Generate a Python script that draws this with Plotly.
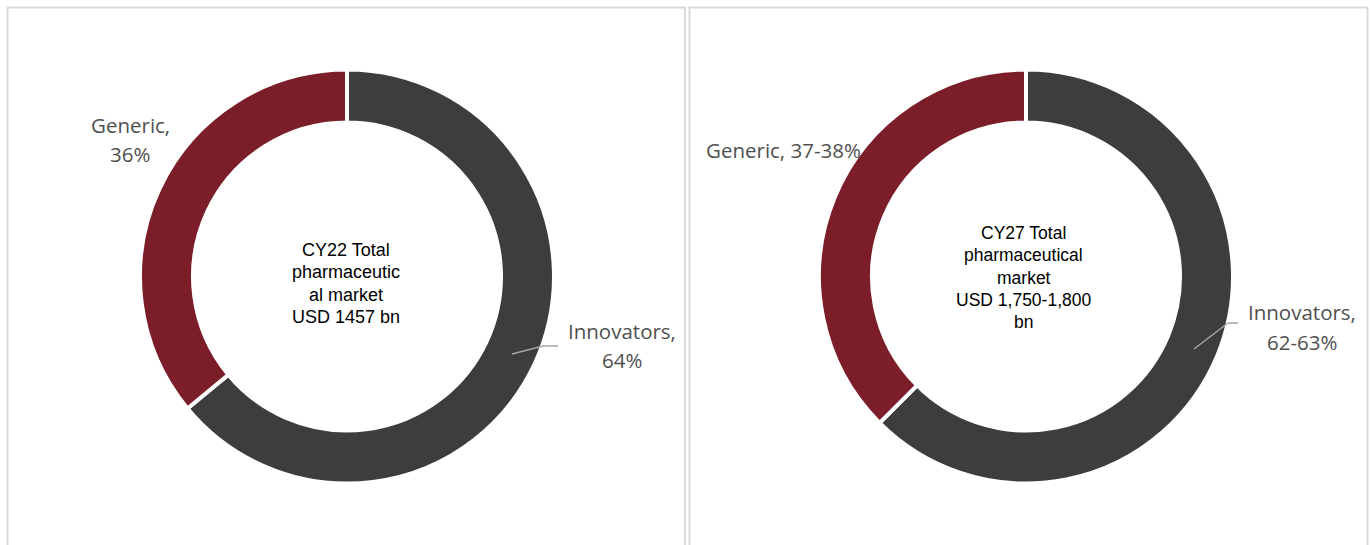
import plotly.graph_objects as go

W, H = 1370, 545

# Market split, CY22 and CY27
segments = ["Innovators", "Generic"]
share_cy22 = [64, 36]
share_cy27 = [62.5, 37.5]
label_cy22 = ["64%", "36%"]
label_cy27 = ["62-63%", "37-38%"]
centre_cy22 = ["CY22 Total", "pharmaceutic", "al market", "USD 1457 bn"]
centre_cy27 = ["CY27 Total", "pharmaceutical", "market", "USD 1,750-1,800", "bn"]

colors = ["#3D3D3D", "#7B1E2A"]
label_color = "#505050"
leader_color = "#A6A6A6"


def px(x):
    return x / W


def py(y):
    return 1 - y / H


def donut_domain(cx, cy, r):
    return dict(x=[px(cx - r), px(cx + r)], y=[py(cy + r), py(cy - r)])


fig = go.Figure()

R = 207
for cx, vals in [(347, share_cy22), (1026, share_cy27)]:
    fig.add_trace(go.Pie(
        labels=segments,
        values=vals,
        sort=False,
        direction="clockwise",
        rotation=0,
        hole=0.744,
        textinfo="none",
        hoverinfo="label+percent",
        marker=dict(colors=colors, line=dict(color="white", width=4)),
        domain=donut_domain(cx, 276.5, R),
        showlegend=False,
    ))

shapes = []
# panel frames
for x0, x1 in [(7.5, 685), (689.5, 1367.5)]:
    shapes.append(dict(type="rect", xref="paper", yref="paper",
                       x0=px(x0), x1=px(x1), y0=py(560), y1=py(7.5),
                       line=dict(color="#D9D9D9", width=2), fillcolor="rgba(0,0,0,0)"))

# leader lines to the Innovators labels
for pts in [[(512, 354), (543, 346), (558, 346)],
            [(1194, 349), (1228, 323), (1238, 323)]]:
    for (xa, ya), (xb, yb) in zip(pts[:-1], pts[1:]):
        shapes.append(dict(type="line", xref="paper", yref="paper",
                           x0=px(xa), y0=py(ya), x1=px(xb), y1=py(yb),
                           line=dict(color=leader_color, width=1.5)))

annotations = []


def text(x, y, s, size, color, family):
    annotations.append(dict(x=px(x), y=py(y), xref="paper", yref="paper",
                            text=s, showarrow=False, xanchor="center", yanchor="middle",
                            font=dict(size=size, color=color, family=family)))


lab_font = "Open Sans"
ls = 20.5
# CY22 labels
text(130, 125, segments[1] + ",", ls, label_color, lab_font)
text(130, 154, label_cy22[1], ls, label_color, lab_font)
text(622, 331, segments[0] + ",", ls, label_color, lab_font)
text(622, 360, label_cy22[0], ls, label_color, lab_font)
# CY27 labels
text(784, 150, segments[1] + ", " + label_cy27[1], ls, label_color, lab_font)
text(1302, 312, segments[0] + ",", ls, label_color, lab_font)
text(1302, 342, label_cy27[0], ls, label_color, lab_font)

# centre captions
ctr_font = "Liberation Sans, Arial"
for i, s in enumerate(centre_cy22):
    text(346, 250 + 22.3 * i, s, 18, "#000000", ctr_font)
for i, s in enumerate(centre_cy27):
    text(1024, 233 + 22.3 * i, s, 17.5, "#000000", ctr_font)

fig.update_layout(
    width=W, height=H,
    margin=dict(l=0, r=0, t=0, b=0),
    paper_bgcolor="white", plot_bgcolor="white",
    shapes=shapes, annotations=annotations,
)

fig.write_html("out.html")
